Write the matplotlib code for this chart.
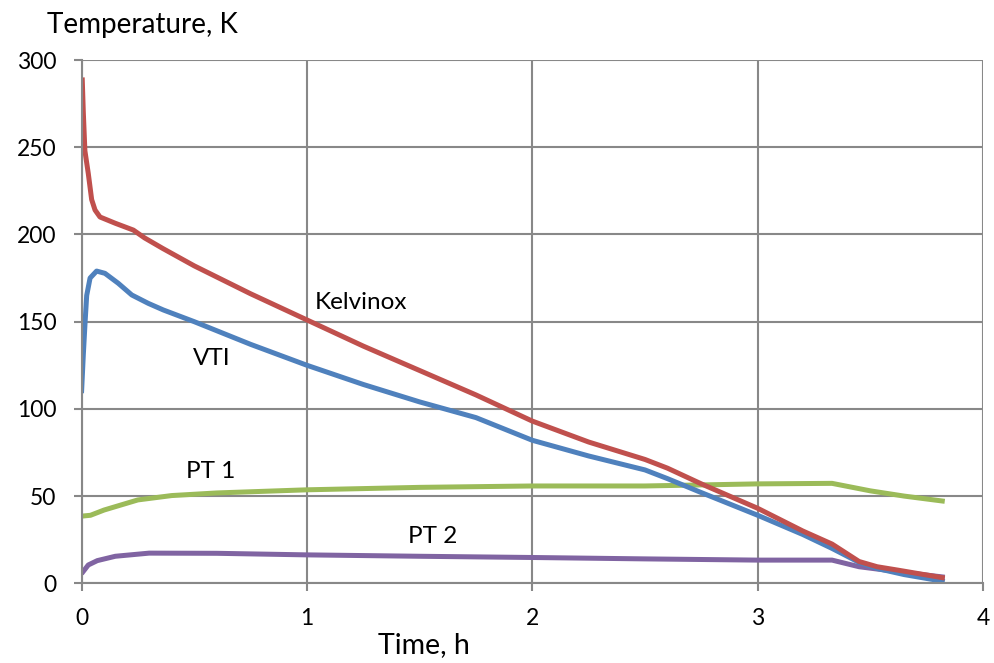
import matplotlib
matplotlib.use("Agg")
import matplotlib.pyplot as plt

plt.rcParams["font.family"] = ["Lato", "DejaVu Sans"]

# Kelvinox (red)
kelvinox_t = [0.003, 0.008, 0.015, 0.03, 0.045, 0.06, 0.082, 0.15, 0.23, 0.28, 0.36, 0.5,
              0.75, 1.0, 1.25, 1.5, 1.75, 2.0, 2.25, 2.5, 2.6, 2.75, 3.0, 3.2, 3.33,
              3.45, 3.53, 3.62, 3.83]
kelvinox_T = [290, 270, 248, 235, 220, 214, 210, 206.4, 202.5, 198, 192, 182,
              166, 151, 136, 122, 108, 93, 81, 71, 66, 57, 43, 30, 22.5,
              12.5, 9.5, 7.6, 3]

# VTI (blue)
vti_t = [0.0, 0.008, 0.016, 0.023, 0.038, 0.067, 0.104, 0.163, 0.223, 0.296, 0.363, 0.5,
         0.75, 1.0, 1.25, 1.5, 1.75, 2.0, 2.25, 2.5, 2.6, 2.75, 3.0, 3.2, 3.33,
         3.45, 3.53, 3.65, 3.83]
vti_T = [109, 131, 150, 165, 175, 179, 177.7, 172, 165.3, 160.5, 156.7, 150,
         137, 125, 114, 104, 95, 82, 73, 65, 60, 52, 39, 28, 20,
         12, 8.5, 5, 1]

# PT 1 (green)
pt1_t = [0.0, 0.04, 0.1, 0.25, 0.4, 0.6, 1.0, 1.5, 2.0, 2.5, 3.0, 3.33, 3.5, 3.65, 3.83]
pt1_T = [38.5, 39, 42, 47.8, 50.3, 51.8, 53.6, 55, 55.8, 55.8, 57, 57.3, 53, 50, 47]

# PT 2 (purple)
pt2_t = [0.0, 0.03, 0.07, 0.15, 0.3, 0.6, 1.0, 1.5, 2.0, 2.5, 3.0, 3.33, 3.45, 3.62, 3.83]
pt2_T = [5.5, 10.5, 13, 15.5, 17.3, 17.2, 16.3, 15.5, 14.8, 14, 13.3, 13.3, 9.5, 6.7, 3.5]

x_ticks = [0, 1, 2, 3, 4]
y_ticks = [0, 50, 100, 150, 200, 250, 300]

GRID = "#888888"

fig = plt.figure(figsize=(9.94, 6.63), dpi=100)
ax = fig.add_axes([0.082, 0.1202, 0.907, 0.7893])

lw = 3.6
style = dict(lw=lw, solid_capstyle="butt", solid_joinstyle="round")
ax.plot(pt2_t, pt2_T, color="#8064A2", **style)
ax.plot(pt1_t, pt1_T, color="#9BBB59", **style)
ax.plot(vti_t, vti_T, color="#4F81BD", **style)
ax.plot(kelvinox_t, kelvinox_T, color="#C0504D", **style)

ax.set_xlim(0, 4)
ax.set_ylim(0, 300)
ax.set_xticks(x_ticks)
ax.set_yticks(y_ticks)
ax.grid(True, color=GRID, lw=1.5)
ax.set_axisbelow(True)
for side in ["top", "right"]:
    ax.spines[side].set_visible(False)
for side in ["left", "bottom"]:
    ax.spines[side].set_color(GRID)
    ax.spines[side].set_linewidth(1.5)
ax.tick_params(direction="out", length=6, width=1.5, color=GRID,
               labelsize=16.5, pad=12)

# series labels
lab = dict(fontsize=17.5, ha="center", va="center")
ax.text(1.24, 161, "Kelvinox", **lab)
ax.text(0.58, 129, "VTI", **lab)
ax.text(0.575, 64, "PT 1", **lab)
ax.text(1.56, 27, "PT 2", **lab)

# axis titles
fig.text(47 / 994, 1 - 33 / 663, "Temperature, K", fontsize=20, ha="left", va="baseline")
fig.text(378 / 994, 1 - 653 / 663, "Time, h", fontsize=20.5, ha="left", va="baseline")

fig.savefig("out.png", dpi=100)
